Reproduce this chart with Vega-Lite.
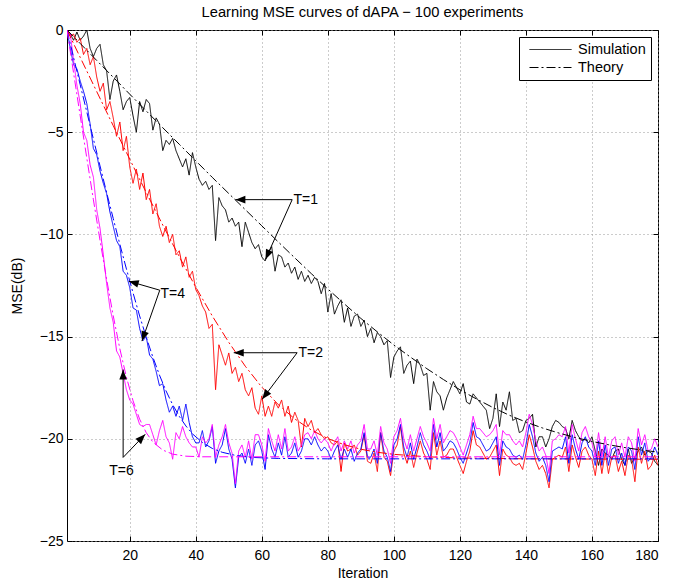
{
"$schema":"https://vega.github.io/schema/vega-lite/v6.json",
"width":591,"height":511,
"autosize":"none",
"padding":{"left":67,"top":30,"right":40,"bottom":42},
"title":{"text":"Learning MSE curves of dAPA − 100 experiments","fontSize":14.7,"fontWeight":"normal","font":"Liberation Sans","color":"black","offset":3},
"config":{
"font":"Liberation Sans",
"view":{"stroke":"black","strokeWidth":1},
"axis":{"domain":false,"tickColor":"black","tickSize":-5,"labelFontSize":14,"labelColor":"black","labelFont":"Liberation Sans","titleFontSize":14,"titleFontWeight":"normal","titleColor":"black","titleFont":"Liberation Sans","gridColor":"#999999","gridDash":[1,3],"gridOpacity":1}
},
"datasets":{
"sim":[
{"i":1,"t1":0,"t2":0,"t4":0,"t6":0},
{"i":2,"t1":-0.2,"t2":-0.3,"t4":-0.9,"t6":-0.2},
{"i":3,"t1":-0.5,"t2":-0.2,"t4":-1.7,"t6":-1.5},
{"i":4,"t1":-0.1,"t2":-0.6,"t4":-1.9,"t6":-2.7},
{"i":5,"t1":-0.5,"t2":-0.4,"t4":-2.5,"t6":-3.6},
{"i":6,"t1":-0.3,"t2":-1.2,"t4":-3.0,"t6":-5.0},
{"i":7,"t1":0,"t2":-0.9,"t4":-3.6,"t6":-5.4},
{"i":8,"t1":-0.9,"t2":-1.7,"t4":-4.6,"t6":-6.6},
{"i":9,"t1":-1.3,"t2":-1.3,"t4":-5.8,"t6":-7.2},
{"i":10,"t1":-0.9,"t2":-2.3,"t4":-6.1,"t6":-8.8},
{"i":11,"t1":-0.7,"t2":-3.0,"t4":-6.9,"t6":-9.7},
{"i":12,"t1":-1.7,"t2":-2.6,"t4":-7.5,"t6":-11.0},
{"i":13,"t1":-2.0,"t2":-3.9,"t4":-8.0,"t6":-12.4},
{"i":14,"t1":-3.4,"t2":-3.5,"t4":-8.9,"t6":-13.6},
{"i":15,"t1":-2.5,"t2":-4.3,"t4":-9.6,"t6":-14.3},
{"i":16,"t1":-2.2,"t2":-5.2,"t4":-10.3,"t6":-15.7},
{"i":17,"t1":-3.0,"t2":-4.5,"t4":-10.6,"t6":-16.0},
{"i":18,"t1":-3.9,"t2":-5.9,"t4":-11.8,"t6":-16.8},
{"i":19,"t1":-3.5,"t2":-5.2,"t4":-12.0,"t6":-17.6},
{"i":20,"t1":-3.3,"t2":-6.7,"t4":-12.6,"t6":-18.1},
{"i":21,"t1":-4.2,"t2":-7.5,"t4":-13.6,"t6":-18.3},
{"i":22,"t1":-5.0,"t2":-6.8,"t4":-13.7,"t6":-18.8},
{"i":23,"t1":-3.5,"t2":-7.8,"t4":-14.6,"t6":-19.3},
{"i":24,"t1":-4.0,"t2":-7.0,"t4":-15.2,"t6":-19.4},
{"i":25,"t1":-3.4,"t2":-8.3,"t4":-15.0,"t6":-19.3},
{"i":26,"t1":-3.6,"t2":-7.8,"t4":-15.9,"t6":-19.3},
{"i":27,"t1":-4.9,"t2":-9.0,"t4":-16.1,"t6":-19.8},
{"i":28,"t1":-4.3,"t2":-8.5,"t4":-16.7,"t6":-20.3},
{"i":29,"t1":-4.6,"t2":-9.6,"t4":-17.4,"t6":-19.6},
{"i":30,"t1":-5.9,"t2":-10.1,"t4":-17.3,"t6":-19.1},
{"i":31,"t1":-5.4,"t2":-9.6,"t4":-18.1,"t6":-19.9},
{"i":32,"t1":-5.6,"t2":-10.4,"t4":-18.7,"t6":-20.2},
{"i":33,"t1":-5.3,"t2":-10.0,"t4":-18.4,"t6":-21.0},
{"i":34,"t1":-5.9,"t2":-11.0,"t4":-18.9,"t6":-19.7},
{"i":35,"t1":-6.3,"t2":-10.8,"t4":-18.4,"t6":-20.0},
{"i":36,"t1":-6.7,"t2":-11.6,"t4":-19.1,"t6":-19.4},
{"i":37,"t1":-6.3,"t2":-11.1,"t4":-18.3,"t6":-19.9},
{"i":38,"t1":-7.1,"t2":-12.1,"t4":-19.2,"t6":-20.2},
{"i":39,"t1":-6.0,"t2":-11.8,"t4":-19.9,"t6":-20.4},
{"i":40,"t1":-6.7,"t2":-12.7,"t4":-20.2,"t6":-20.4},
{"i":41,"t1":-7.3,"t2":-13.0,"t4":-20.2,"t6":-20.9},
{"i":42,"t1":-7.6,"t2":-13.5,"t4":-19.6,"t6":-19.9},
{"i":43,"t1":-7.4,"t2":-13.8,"t4":-20.4,"t6":-20.2},
{"i":44,"t1":-7.8,"t2":-14.6,"t4":-20.1,"t6":-20.0},
{"i":45,"t1":-7.6,"t2":-14.4,"t4":-19.4,"t6":-19.3},
{"i":46,"t1":-10.3,"t2":-17.6,"t4":-21.2,"t6":-20.9},
{"i":47,"t1":-8.2,"t2":-15.4,"t4":-20.6,"t6":-20.3},
{"i":48,"t1":-8.6,"t2":-15.9,"t4":-20.3,"t6":-19.9},
{"i":49,"t1":-8.8,"t2":-16.4,"t4":-19.5,"t6":-19.3},
{"i":50,"t1":-9.4,"t2":-15.8,"t4":-20.5,"t6":-20.2},
{"i":51,"t1":-9.2,"t2":-16.8,"t4":-21.0,"t6":-20.7},
{"i":52,"t1":-9.6,"t2":-16.5,"t4":-22.4,"t6":-22.2},
{"i":53,"t1":-9.4,"t2":-17.2,"t4":-20.9,"t6":-20.6},
{"i":54,"t1":-10.6,"t2":-16.8,"t4":-20.7,"t6":-20.3},
{"i":55,"t1":-9.4,"t2":-17.6,"t4":-21.2,"t6":-20.9},
{"i":56,"t1":-9.9,"t2":-17.9,"t4":-20.5,"t6":-20.1},
{"i":57,"t1":-10.4,"t2":-17.5,"t4":-21.3,"t6":-21.0},
{"i":58,"t1":-10.7,"t2":-18.5,"t4":-20.3,"t6":-19.8},
{"i":59,"t1":-10.5,"t2":-18.8,"t4":-20.1,"t6":-19.8},
{"i":60,"t1":-11.1,"t2":-17.9,"t4":-20.6,"t6":-20.3},
{"i":61,"t1":-11.3,"t2":-18.9,"t4":-21.5,"t6":-21.1},
{"i":62,"t1":-10.9,"t2":-18.4,"t4":-19.8,"t6":-19.5},
{"i":63,"t1":-10.6,"t2":-18.9,"t4":-20.5,"t6":-20.1},
{"i":64,"t1":-11.8,"t2":-18.2,"t4":-20.9,"t6":-20.6},
{"i":65,"t1":-11.0,"t2":-18.5,"t4":-20.2,"t6":-19.8},
{"i":66,"t1":-11.1,"t2":-18.1,"t4":-20.8,"t6":-20.5},
{"i":67,"t1":-11.6,"t2":-18.9,"t4":-19.9,"t6":-19.5},
{"i":68,"t1":-11.4,"t2":-18.4,"t4":-20.9,"t6":-20.6},
{"i":69,"t1":-11.9,"t2":-19.2,"t4":-20.7,"t6":-20.4},
{"i":70,"t1":-11.6,"t2":-18.7,"t4":-20.2,"t6":-19.9},
{"i":71,"t1":-12.2,"t2":-19.1,"t4":-20.9,"t6":-20.6},
{"i":72,"t1":-11.8,"t2":-20.4,"t4":-20.6,"t6":-20.3},
{"i":73,"t1":-12.3,"t2":-19.0,"t4":-20.0,"t6":-19.8},
{"i":74,"t1":-12.0,"t2":-19.4,"t4":-20.0,"t6":-19.7},
{"i":75,"t1":-12.4,"t2":-19.1,"t4":-20.3,"t6":-20.0},
{"i":76,"t1":-12.1,"t2":-19.7,"t4":-19.9,"t6":-19.6},
{"i":77,"t1":-12.3,"t2":-19.5,"t4":-20.3,"t6":-20.0},
{"i":78,"t1":-12.9,"t2":-19.8,"t4":-20.6,"t6":-20.2},
{"i":79,"t1":-12.4,"t2":-20.0,"t4":-20.4,"t6":-20.0},
{"i":80,"t1":-13.8,"t2":-19.9,"t4":-20.6,"t6":-20.2},
{"i":81,"t1":-12.9,"t2":-20.2,"t4":-21.0,"t6":-20.6},
{"i":82,"t1":-13.9,"t2":-20.3,"t4":-20.6,"t6":-20.2},
{"i":83,"t1":-13.5,"t2":-20.1,"t4":-20.3,"t6":-19.9},
{"i":84,"t1":-13.2,"t2":-21.6,"t4":-21.0,"t6":-20.6},
{"i":85,"t1":-14.3,"t2":-20.2,"t4":-20.5,"t6":-20.1},
{"i":86,"t1":-13.6,"t2":-20.6,"t4":-20.9,"t6":-20.5},
{"i":87,"t1":-14.5,"t2":-20.5,"t4":-20.5,"t6":-20.1},
{"i":88,"t1":-14.0,"t2":-20.3,"t4":-21.1,"t6":-20.7},
{"i":89,"t1":-13.9,"t2":-20.8,"t4":-20.7,"t6":-20.3},
{"i":90,"t1":-14.5,"t2":-20.6,"t4":-20.5,"t6":-20.1},
{"i":91,"t1":-14.2,"t2":-19.8,"t4":-19.7,"t6":-19.3},
{"i":92,"t1":-15.0,"t2":-21.1,"t4":-20.9,"t6":-20.5},
{"i":93,"t1":-14.6,"t2":-21.2,"t4":-20.9,"t6":-20.5},
{"i":94,"t1":-15.3,"t2":-20.7,"t4":-20.5,"t6":-20.1},
{"i":95,"t1":-14.8,"t2":-21.6,"t4":-21.2,"t6":-20.8},
{"i":96,"t1":-15.0,"t2":-19.7,"t4":-19.7,"t6":-19.4},
{"i":97,"t1":-15.4,"t2":-20.9,"t4":-20.6,"t6":-20.2},
{"i":98,"t1":-15.2,"t2":-21.1,"t4":-20.9,"t6":-20.5},
{"i":99,"t1":-17.0,"t2":-21.8,"t4":-21.6,"t6":-21.2},
{"i":100,"t1":-16.0,"t2":-20.6,"t4":-20.3,"t6":-19.9},
{"i":101,"t1":-15.7,"t2":-20.3,"t4":-20.0,"t6":-19.6},
{"i":102,"t1":-15.5,"t2":-19.4,"t4":-19.3,"t6":-19.0},
{"i":103,"t1":-16.8,"t2":-20.7,"t4":-20.4,"t6":-20.0},
{"i":104,"t1":-16.4,"t2":-21.2,"t4":-20.9,"t6":-20.5},
{"i":105,"t1":-16.2,"t2":-20.6,"t4":-20.2,"t6":-19.8},
{"i":106,"t1":-17.3,"t2":-21.4,"t4":-21.0,"t6":-20.6},
{"i":107,"t1":-16.1,"t2":-20.7,"t4":-20.4,"t6":-20.0},
{"i":108,"t1":-16.4,"t2":-20.1,"t4":-19.7,"t6":-19.4},
{"i":109,"t1":-16.9,"t2":-20.7,"t4":-20.3,"t6":-19.9},
{"i":110,"t1":-16.8,"t2":-21.0,"t4":-20.6,"t6":-20.2},
{"i":111,"t1":-18.6,"t2":-21.5,"t4":-21.0,"t6":-20.6},
{"i":112,"t1":-17.2,"t2":-19.7,"t4":-19.3,"t6":-19.0},
{"i":113,"t1":-17.7,"t2":-20.8,"t4":-20.4,"t6":-20.0},
{"i":114,"t1":-17.9,"t2":-20.1,"t4":-19.7,"t6":-19.3},
{"i":115,"t1":-18.6,"t2":-20.9,"t4":-20.6,"t6":-20.2},
{"i":116,"t1":-18.0,"t2":-20.8,"t4":-20.4,"t6":-19.9},
{"i":117,"t1":-17.6,"t2":-20.5,"t4":-20.1,"t6":-19.6},
{"i":118,"t1":-17.2,"t2":-20.5,"t4":-20.2,"t6":-19.7},
{"i":119,"t1":-17.5,"t2":-20.9,"t4":-20.5,"t6":-20.0},
{"i":120,"t1":-17.8,"t2":-21.3,"t4":-20.9,"t6":-20.4},
{"i":121,"t1":-17.3,"t2":-21.7,"t4":-21.2,"t6":-20.8},
{"i":122,"t1":-18.2,"t2":-21.1,"t4":-20.7,"t6":-20.3},
{"i":123,"t1":-18.3,"t2":-20.6,"t4":-20.2,"t6":-19.8},
{"i":124,"t1":-17.8,"t2":-19.6,"t4":-19.2,"t6":-18.9},
{"i":125,"t1":-18.0,"t2":-20.3,"t4":-19.9,"t6":-19.5},
{"i":126,"t1":-18.2,"t2":-20.4,"t4":-20.0,"t6":-19.5},
{"i":127,"t1":-18.4,"t2":-20.7,"t4":-20.3,"t6":-19.7},
{"i":128,"t1":-18.6,"t2":-21.0,"t4":-20.6,"t6":-19.9},
{"i":129,"t1":-19.5,"t2":-20.9,"t4":-20.5,"t6":-19.8},
{"i":130,"t1":-19.0,"t2":-20.6,"t4":-20.2,"t6":-19.6},
{"i":131,"t1":-17.8,"t2":-20.3,"t4":-19.9,"t6":-19.3},
{"i":132,"t1":-19.4,"t2":-21.8,"t4":-21.3,"t6":-20.8},
{"i":133,"t1":-18.2,"t2":-20.5,"t4":-20.1,"t6":-19.6},
{"i":134,"t1":-18.6,"t2":-20.8,"t4":-20.4,"t6":-19.8},
{"i":135,"t1":-17.7,"t2":-20.9,"t4":-20.5,"t6":-19.8},
{"i":136,"t1":-19.1,"t2":-21.2,"t4":-20.8,"t6":-20.1},
{"i":137,"t1":-19.0,"t2":-21.3,"t4":-20.9,"t6":-20.3},
{"i":138,"t1":-19.7,"t2":-21.2,"t4":-20.8,"t6":-20.1},
{"i":139,"t1":-19.6,"t2":-21.5,"t4":-21.0,"t6":-20.4},
{"i":140,"t1":-19.1,"t2":-20.7,"t4":-20.3,"t6":-19.7},
{"i":141,"t1":-19.0,"t2":-19.8,"t4":-19.3,"t6":-18.8},
{"i":142,"t1":-18.8,"t2":-20.4,"t4":-19.9,"t6":-19.3},
{"i":143,"t1":-20.4,"t2":-21.1,"t4":-20.7,"t6":-20.1},
{"i":144,"t1":-19.9,"t2":-21.5,"t4":-21.1,"t6":-20.6},
{"i":145,"t1":-19.9,"t2":-21.3,"t4":-20.9,"t6":-20.4},
{"i":146,"t1":-20.4,"t2":-21.7,"t4":-21.3,"t6":-20.8},
{"i":147,"t1":-20.0,"t2":-22.4,"t4":-22.1,"t6":-21.7},
{"i":148,"t1":-19.4,"t2":-21.0,"t4":-20.6,"t6":-20.1},
{"i":149,"t1":-19.1,"t2":-20.9,"t4":-20.5,"t6":-20.0},
{"i":150,"t1":-19.2,"t2":-20.8,"t4":-20.4,"t6":-19.8},
{"i":151,"t1":-19.4,"t2":-20.9,"t4":-20.5,"t6":-19.9},
{"i":152,"t1":-19.5,"t2":-20.4,"t4":-19.9,"t6":-19.4},
{"i":153,"t1":-20.0,"t2":-21.6,"t4":-21.2,"t6":-20.7},
{"i":154,"t1":-19.1,"t2":-20.3,"t4":-19.8,"t6":-19.3},
{"i":155,"t1":-19.6,"t2":-20.9,"t4":-20.5,"t6":-20.0},
{"i":156,"t1":-19.9,"t2":-21.4,"t4":-21.0,"t6":-20.6},
{"i":157,"t1":-20.1,"t2":-20.6,"t4":-20.2,"t6":-19.7},
{"i":158,"t1":-20.0,"t2":-20.4,"t4":-19.9,"t6":-19.4},
{"i":159,"t1":-20.2,"t2":-20.8,"t4":-20.4,"t6":-19.9},
{"i":160,"t1":-19.9,"t2":-21.0,"t4":-20.6,"t6":-20.2},
{"i":161,"t1":-20.6,"t2":-21.8,"t4":-21.3,"t6":-20.9},
{"i":162,"t1":-21.3,"t2":-20.6,"t4":-20.1,"t6":-19.7},
{"i":163,"t1":-20.5,"t2":-21.7,"t4":-21.3,"t6":-20.9},
{"i":164,"t1":-20.7,"t2":-20.7,"t4":-20.3,"t6":-19.9},
{"i":165,"t1":-20.8,"t2":-21.7,"t4":-21.3,"t6":-20.9},
{"i":166,"t1":-21.0,"t2":-20.9,"t4":-20.5,"t6":-20.1},
{"i":167,"t1":-20.6,"t2":-20.8,"t4":-20.4,"t6":-19.9},
{"i":168,"t1":-20.5,"t2":-21.6,"t4":-21.2,"t6":-20.8},
{"i":169,"t1":-21.0,"t2":-21.1,"t4":-20.7,"t6":-20.2},
{"i":170,"t1":-21.3,"t2":-21.8,"t4":-21.3,"t6":-20.9},
{"i":171,"t1":-20.5,"t2":-20.8,"t4":-20.4,"t6":-19.9},
{"i":172,"t1":-21.2,"t2":-21.0,"t4":-20.6,"t6":-20.2},
{"i":173,"t1":-20.9,"t2":-22.1,"t4":-21.5,"t6":-21.1},
{"i":174,"t1":-20.6,"t2":-20.4,"t4":-19.9,"t6":-19.5},
{"i":175,"t1":-20.4,"t2":-21.2,"t4":-20.8,"t6":-20.3},
{"i":176,"t1":-20.8,"t2":-20.6,"t4":-20.2,"t6":-19.8},
{"i":177,"t1":-20.6,"t2":-21.5,"t4":-21.1,"t6":-20.6},
{"i":178,"t1":-20.7,"t2":-21.3,"t4":-20.9,"t6":-20.5},
{"i":179,"t1":-21.1,"t2":-20.8,"t4":-20.4,"t6":-20.0},
{"i":180,"t1":-21.3,"t2":-21.3,"t4":-20.8,"t6":-20.4}
],
"theory":[
{"s":"t1","i":1,"v":0},{"s":"t1","i":5,"v":-0.66},{"s":"t1","i":10,"v":-1.49},{"s":"t1","i":15,"v":-2.31},{"s":"t1","i":20,"v":-3.14},{"s":"t1","i":25,"v":-3.96},{"s":"t1","i":30,"v":-4.78},{"s":"t1","i":35,"v":-5.59},{"s":"t1","i":40,"v":-6.4},{"s":"t1","i":45,"v":-7.21},{"s":"t1","i":50,"v":-8.0},{"s":"t1","i":55,"v":-8.79},{"s":"t1","i":60,"v":-9.58},{"s":"t1","i":65,"v":-10.37},{"s":"t1","i":70,"v":-11.15},{"s":"t1","i":75,"v":-11.92},{"s":"t1","i":80,"v":-12.67},{"s":"t1","i":85,"v":-13.4},{"s":"t1","i":90,"v":-14.11},{"s":"t1","i":95,"v":-14.77},{"s":"t1","i":100,"v":-15.41},{"s":"t1","i":105,"v":-16.0},{"s":"t1","i":110,"v":-16.57},{"s":"t1","i":115,"v":-17.1},{"s":"t1","i":120,"v":-17.6},{"s":"t1","i":125,"v":-18.05},{"s":"t1","i":130,"v":-18.47},{"s":"t1","i":135,"v":-18.85},{"s":"t1","i":140,"v":-19.18},{"s":"t1","i":145,"v":-19.47},{"s":"t1","i":150,"v":-19.72},{"s":"t1","i":155,"v":-19.94},{"s":"t1","i":160,"v":-20.13},{"s":"t1","i":165,"v":-20.29},{"s":"t1","i":170,"v":-20.43},{"s":"t1","i":175,"v":-20.55},{"s":"t1","i":180,"v":-20.65},
{"s":"t2","i":1,"v":0},{"s":"t2","i":5,"v":-1.34},{"s":"t2","i":10,"v":-3.01},{"s":"t2","i":15,"v":-4.68},{"s":"t2","i":20,"v":-6.32},{"s":"t2","i":25,"v":-7.95},{"s":"t2","i":30,"v":-9.54},{"s":"t2","i":35,"v":-11.09},{"s":"t2","i":40,"v":-12.58},{"s":"t2","i":45,"v":-13.99},{"s":"t2","i":50,"v":-15.28},{"s":"t2","i":55,"v":-16.45},{"s":"t2","i":60,"v":-17.47},{"s":"t2","i":65,"v":-18.33},{"s":"t2","i":70,"v":-19.03},{"s":"t2","i":75,"v":-19.57},{"s":"t2","i":80,"v":-19.99},{"s":"t2","i":85,"v":-20.29},{"s":"t2","i":90,"v":-20.51},{"s":"t2","i":95,"v":-20.66},{"s":"t2","i":100,"v":-20.76},{"s":"t2","i":110,"v":-20.88},{"s":"t2","i":120,"v":-20.94},{"s":"t2","i":140,"v":-20.98},{"s":"t2","i":180,"v":-21.0},
{"s":"t4","i":1,"v":0},{"s":"t4","i":3,"v":-1.35},{"s":"t4","i":5,"v":-2.68},{"s":"t4","i":7,"v":-4.01},{"s":"t4","i":9,"v":-5.34},{"s":"t4","i":11,"v":-6.65},{"s":"t4","i":13,"v":-7.95},{"s":"t4","i":15,"v":-9.22},{"s":"t4","i":17,"v":-10.48},{"s":"t4","i":19,"v":-11.69},{"s":"t4","i":21,"v":-12.86},{"s":"t4","i":23,"v":-13.99},{"s":"t4","i":25,"v":-15.03},{"s":"t4","i":27,"v":-16.0},{"s":"t4","i":29,"v":-16.88},{"s":"t4","i":31,"v":-17.66},{"s":"t4","i":33,"v":-18.33},{"s":"t4","i":35,"v":-18.9},{"s":"t4","i":37,"v":-19.37},{"s":"t4","i":39,"v":-19.76},{"s":"t4","i":42,"v":-20.18},{"s":"t4","i":45,"v":-20.47},{"s":"t4","i":48,"v":-20.66},{"s":"t4","i":52,"v":-20.81},{"s":"t4","i":57,"v":-20.91},{"s":"t4","i":65,"v":-20.96},{"s":"t4","i":80,"v":-20.98},{"s":"t4","i":180,"v":-20.98},
{"s":"t6","i":1,"v":0},{"s":"t6","i":3,"v":-2.11},{"s":"t6","i":5,"v":-4.2},{"s":"t6","i":7,"v":-6.27},{"s":"t6","i":9,"v":-8.31},{"s":"t6","i":11,"v":-10.29},{"s":"t6","i":13,"v":-12.19},{"s":"t6","i":15,"v":-13.98},{"s":"t6","i":17,"v":-15.59},{"s":"t6","i":19,"v":-16.99},{"s":"t6","i":21,"v":-18.14},{"s":"t6","i":23,"v":-19.04},{"s":"t6","i":25,"v":-19.7},{"s":"t6","i":27,"v":-20.16},{"s":"t6","i":30,"v":-20.55},{"s":"t6","i":33,"v":-20.75},{"s":"t6","i":37,"v":-20.85},{"s":"t6","i":42,"v":-20.88},{"s":"t6","i":180,"v":-20.88}
],
"arrows":[
{"lab":"T=1","x0":69.2,"y0":-8.3,"x1":52.0,"y1":-8.3,"ang":270},
{"lab":"T=1","x0":69.2,"y0":-8.3,"x1":61.1,"y1":-11.23,"ang":204},
{"lab":"T=2","x0":70.7,"y0":-15.79,"x1":51.5,"y1":-15.79,"ang":270},
{"lab":"T=2","x0":70.7,"y0":-15.79,"x1":60.1,"y1":-18.07,"ang":217},
{"lab":"T=4","x0":29.1,"y0":-12.73,"x1":19.7,"y1":-12.29,"ang":286},
{"lab":"T=4","x0":29.1,"y0":-12.73,"x1":23.7,"y1":-15.22,"ang":199},
{"lab":"T=6","x0":18.0,"y0":-20.91,"x1":18.0,"y1":-16.61,"ang":0},
{"lab":"T=6","x0":18.0,"y0":-20.91,"x1":24.7,"y1":-19.78,"ang":44}
],
"labels":[
{"lab":"T=1","x":69.6,"y":-8.3},
{"lab":"T=2","x":71.1,"y":-15.79},
{"lab":"T=4","x":29.3,"y":-12.94},
{"lab":"T=6","x":13.8,"y":-21.58}
]
},
"layer":[
{
"data":{"name":"sim"},
"transform":[{"fold":["t1","t2","t4","t6"],"as":["s","v"]}],
"mark":{"type":"line","strokeWidth":1,"clip":true},
"encoding":{
"x":{"field":"i","type":"quantitative","scale":{"domain":[1,180],"nice":false,"zero":false},"axis":{"values":[20,40,60,80,100,120,140,160,180],"title":"Iteration","grid":true,"labelPadding":12,"titlePadding":4}},
"y":{"field":"v","type":"quantitative","scale":{"domain":[-25,0],"nice":false,"zero":false},"axis":{"values":[0,-5,-10,-15,-20,-25],"title":"MSE(dB)","grid":true,"labelPadding":9,"titlePadding":15}},
"color":{"field":"s","type":"nominal","scale":{"domain":["t1","t2","t4","t6"],"range":["#000000","#ff0000","#0000ff","#ff00ff"]},"legend":null},
"strokeDash":{"datum":"Simulation","type":"nominal","scale":{"domain":["Simulation","Theory"],"range":[[1,0],[9,3,2,3]]},"legend":{"title":null,"orient":"top-right","offset":7,"symbolType":"stroke","symbolSize":1764,"symbolStrokeColor":"black","symbolStrokeWidth":1,"symbolOffset":5,"clipHeight":15,"rowPadding":2,"labelFontSize":14.5,"labelColor":"black","labelFont":"Liberation Sans","labelOffset":6,"strokeColor":"black","fillColor":"white","padding":5}}
}
},
{
"data":{"name":"theory"},
"mark":{"type":"line","strokeWidth":1,"clip":true},
"encoding":{
"x":{"field":"i","type":"quantitative","axis":{"orient":"top","labels":false,"title":null,"grid":false,"values":[20,40,60,80,100,120,140,160,180]}},
"y":{"field":"v","type":"quantitative","axis":{"orient":"right","labels":false,"title":null,"grid":false,"values":[0,-5,-10,-15,-20,-25]}},
"color":{"field":"s","type":"nominal","legend":null},
"strokeDash":{"datum":"Theory","type":"nominal"}
}
},
{
"data":{"name":"arrows"},
"mark":{"type":"rule","color":"black","strokeWidth":1},
"encoding":{
"x":{"field":"x0","type":"quantitative","axis":null},
"y":{"field":"y0","type":"quantitative","axis":null},
"x2":{"field":"x1"},
"y2":{"field":"y1"}
}
},
{
"data":{"name":"arrows"},
"mark":{"type":"point","shape":"M0,0L-0.38,1L0.38,1Z","filled":true,"color":"black","opacity":1,"size":400},
"encoding":{
"x":{"field":"x1","type":"quantitative","axis":null},
"y":{"field":"y1","type":"quantitative","axis":null},
"angle":{"field":"ang","type":"quantitative","scale":null}
}
},
{
"data":{"name":"labels"},
"mark":{"type":"text","align":"left","baseline":"middle","fontSize":14,"font":"Liberation Sans","color":"black"},
"encoding":{
"x":{"field":"x","type":"quantitative","axis":null},
"y":{"field":"y","type":"quantitative","axis":null},
"text":{"field":"lab"}
}
}
],
"resolve":{"axis":{"x":"independent","y":"independent"}}
}
